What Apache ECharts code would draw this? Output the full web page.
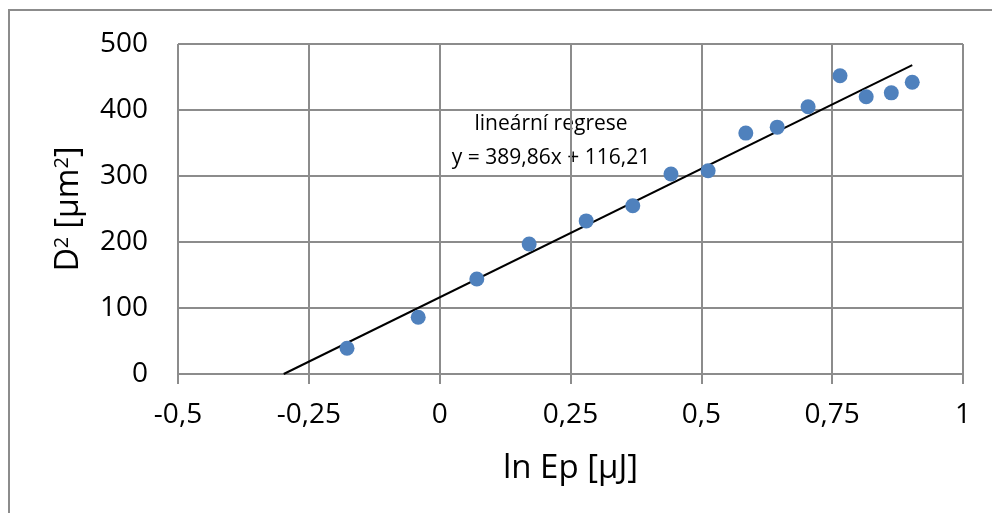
<!DOCTYPE html>
<html>
<head>
<meta charset="utf-8"/>
<title>D2 vs ln Ep</title>
<script src="https://cdn.jsdelivr.net/npm/echarts@6/dist/echarts.min.js"></script>
<style>
	html, body { margin: 0; padding: 0; background: #fff; }
	#chart { width: 992px; height: 513px; }
</style>
</head>
<body>
<div id="chart"></div>
<script>
	// measured points (ln Ep, D^2)
	var lnEp = [-0.177, -0.041, 0.071, 0.171, 0.280, 0.369, 0.442, 0.513, 0.585, 0.645, 0.704, 0.765, 0.815, 0.863, 0.903];
	var dSq = [39, 86, 144, 197, 232, 255, 303, 308, 365, 374, 405, 452, 420, 426, 442];
	// regression line end points
	var trendX = [-0.298, 0.903];
	var trendY = [0, 468];
	var xTicks = [-0.5, -0.25, 0, 0.25, 0.5, 0.75, 1];
	var yTicks = [0, 100, 200, 300, 400, 500];

	var font = '"Open Sans", "Noto Sans", sans-serif';
	var gridColor = '#8c8c8c';

	var points = lnEp.map(function(x, i){ return [x, dSq[i]]; });
	var trend = trendX.map(function(x, i){ return [x, trendY[i]]; });

	var chart = echarts.init(document.getElementById('chart'));
	chart.setOption({
		backgroundColor: '#fff',
		animation: false,
		grid: { left: 178, right: 29, top: 44, bottom: 139 },
		xAxis: {
			type: 'value',
			min: xTicks[0],
			max: xTicks[xTicks.length - 1],
			interval: 0.25,
			name: 'ln Ep [μJ]',
			nameLocation: 'middle',
			nameGap: 78,
			nameTextStyle: { fontFamily: font, fontSize: 33, color: '#000' },
			axisLine: { onZero: false, lineStyle: { color: gridColor, width: 2 } },
			axisTick: { show: true, length: 10, lineStyle: { color: gridColor, width: 2 } },
			axisLabel: {
				margin: 27,
				fontFamily: font, fontSize: 28, color: '#000',
				formatter: function(v){ return String(v).replace('.', ','); }
			},
			splitLine: { show: true, lineStyle: { color: gridColor, width: 2 } }
		},
		yAxis: {
			type: 'value',
			min: yTicks[0],
			max: yTicks[yTicks.length - 1],
			interval: 100,
			name: 'D{sup|2} [μm{sup|2}]',
			nameLocation: 'middle',
			nameGap: 92,
			nameTextStyle: {
				fontFamily: font, fontSize: 32, color: '#000',
				rich: { sup: { fontFamily: font, fontSize: 20, color: '#000', verticalAlign: 'top', padding: [0, 0, 14, 0] } }
			},
			axisLine: { show: true, lineStyle: { color: gridColor, width: 2 } },
			axisTick: { show: true, length: 11, lineStyle: { color: gridColor, width: 2 } },
			axisLabel: { margin: 30, fontFamily: font, fontSize: 28, color: '#000' },
			splitLine: { show: true, lineStyle: { color: gridColor, width: 2 } }
		},
		graphic: [
			{
				type: 'rect', silent: true,
				shape: { x: 9, y: 10, width: 1100, height: 700 },
				style: { fill: null, stroke: gridColor, lineWidth: 2 }
			},
			{
				type: 'text', left: 436, top: 107, silent: true,
				style: {
					text: 'lineární regrese\ny = 389,86x + 116,21',
					fontFamily: font, fontSize: 21, fill: '#000',
					textAlign: 'center', lineHeight: 34, width: 230
				}
			}
		],
		series: [
			{
				type: 'line',
				data: trend,
				symbol: 'none',
				lineStyle: { color: '#000', width: 2 },
				z: 3
			},
			{
				type: 'scatter',
				data: points,
				symbolSize: 15,
				itemStyle: { color: '#4f81bd', opacity: 1 },
				z: 4
			}
		]
	});
</script>
</body>
</html>
